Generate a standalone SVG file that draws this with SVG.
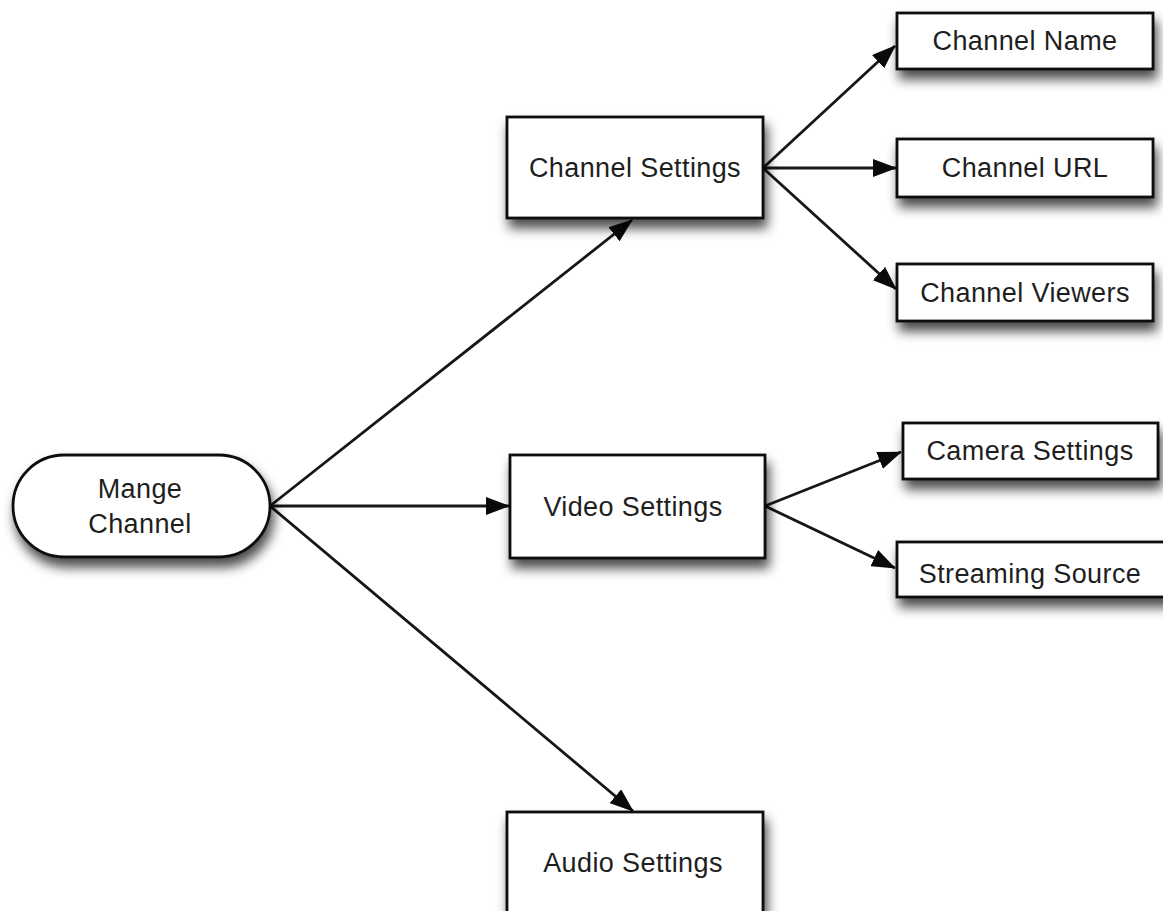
<svg xmlns="http://www.w3.org/2000/svg" width="1163" height="911" viewBox="0 0 1163 911">
  <style>
    .box { fill: #ffffff; stroke: #111111; stroke-width: 2.8; filter: url(#shadow); }
    .lbl { font-family: "Liberation Sans", Arial, sans-serif; font-size: 27px; fill: #1e1e1e; text-anchor: middle; letter-spacing: 0.4px; }
    .edge { fill: none; stroke: #161616; stroke-width: 2.8; marker-end: url(#arrow); }
  </style>
  <defs>
    <filter id="shadow" x="-20%" y="-30%" width="140%" height="180%">
      <feDropShadow dx="3" dy="9" stdDeviation="6" flood-color="#000000" flood-opacity="0.7"/>
    </filter>
    <marker id="arrow" markerUnits="userSpaceOnUse" markerWidth="24" markerHeight="18" refX="23" refY="9" orient="auto">
      <path d="M0,0 L24,9 L0,18 Z" fill="#0a0a0a"/>
    </marker>
  </defs>
  <rect width="1163" height="911" fill="#ffffff"/>

  <g id="connectors">
    <line class="edge" x1="270" y1="506" x2="632" y2="220"/>
    <line class="edge" x1="270" y1="506" x2="509" y2="506"/>
    <line class="edge" x1="270" y1="506" x2="633" y2="811"/>
    <line class="edge" x1="763" y1="168" x2="895" y2="46"/>
    <line class="edge" x1="763" y1="168" x2="896" y2="168"/>
    <line class="edge" x1="763" y1="168" x2="896" y2="289"/>
    <line class="edge" x1="765" y1="506" x2="901" y2="452"/>
    <line class="edge" x1="765" y1="506" x2="895" y2="568"/>
  </g>

  <g id="mange-channel">
    <rect class="box" x="13" y="455" width="257" height="102" rx="51" ry="51"/>
    <text class="lbl" x="140" y="498">Mange</text>
    <text class="lbl" x="140" y="533">Channel</text>
  </g>

  <g id="channel-settings">
    <rect class="box" x="507" y="117" width="256" height="101"/>
    <text class="lbl" x="635" y="177">Channel Settings</text>
  </g>

  <g id="video-settings">
    <rect class="box" x="510" y="455" width="255" height="103"/>
    <text class="lbl" x="633" y="516">Video Settings</text>
  </g>

  <g id="audio-settings">
    <rect class="box" x="507" y="812" width="256" height="120"/>
    <text class="lbl" x="633" y="872">Audio Settings</text>
  </g>

  <g id="channel-name">
    <rect class="box" x="897" y="13" width="256" height="56"/>
    <text class="lbl" x="1025" y="50">Channel Name</text>
  </g>

  <g id="channel-url">
    <rect class="box" x="897" y="139" width="256" height="58"/>
    <text class="lbl" x="1025" y="177">Channel URL</text>
  </g>

  <g id="channel-viewers">
    <rect class="box" x="897" y="264" width="256" height="57"/>
    <text class="lbl" x="1025" y="302">Channel Viewers</text>
  </g>

  <g id="camera-settings">
    <rect class="box" x="903" y="423" width="255" height="56"/>
    <text class="lbl" x="1030" y="460">Camera Settings</text>
  </g>

  <g id="streaming-source">
    <rect class="box" x="897" y="542" width="275" height="55"/>
    <text class="lbl" x="1030" y="583">Streaming Source</text>
  </g>
</svg>
